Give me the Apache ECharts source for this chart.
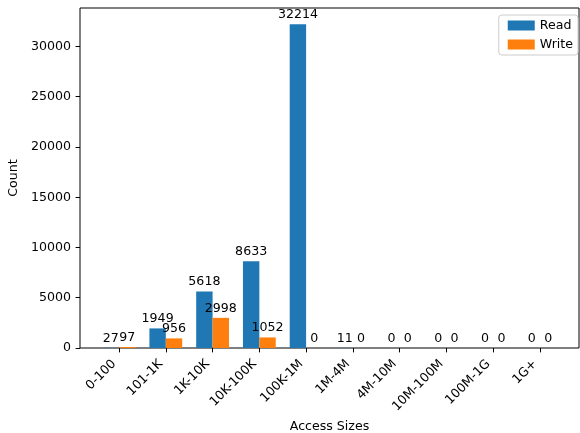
<!DOCTYPE html>
<html>
<head>
<meta charset="utf-8">
<script src="https://cdn.jsdelivr.net/npm/echarts@6/dist/echarts.min.js"></script>
<style>
html, body { margin: 0; padding: 0; background: #fff; }
#chart { width: 580px; height: 433px; }
</style>
</head>
<body>
<div id="chart"></div>
<script>
var sizes = ['0-100', '101-1K', '1K-10K', '10K-100K', '100K-1M', '1M-4M', '4M-10M', '10M-100M', '100M-1G', '1G+'];
var readCounts = [27, 1949, 5618, 8633, 32214, 11, 0, 0, 0, 0];
var writeCounts = [97, 956, 2998, 1052, 0, 0, 0, 0, 0, 0];
var yTicks = [0, 5000, 10000, 15000, 20000, 25000, 30000];

var font = 'DejaVu Sans';
var fs = 12.6;

// x is a value axis so the margins match matplotlib's
var xPos = [];
var readData = [];
var writeData = [];
for (var i = 0; i < sizes.length; i++) {
    xPos.push(i);
    readData.push([i, readCounts[i]]);
    writeData.push([i, writeCounts[i]]);
}

var barLabel = {
    show: true,
    position: 'top',
    distance: 3,
    color: '#000',
    fontFamily: font,
    fontSize: fs,
    formatter: function (p) { return p.value[1]; }
};

var myChart = echarts.init(document.getElementById('chart'));
var option = {
    animation: false,
    textStyle: { fontFamily: font },
    grid: {
        left: 80,
        right: 1,
        top: 8,
        bottom: 85,
        outerBoundsMode: 'none',
        containLabel: false,
        show: true,
        borderColor: '#000',
        borderWidth: 1
    },
    legend: {
        right: 2,
        top: 15,
        orient: 'vertical',
        icon: 'rect',
        itemWidth: 27,
        itemHeight: 10,
        itemGap: 6,
        padding: [4, 5, 4, 9],
        borderColor: '#ccc',
        borderWidth: 1,
        borderRadius: 3,
        textStyle: { fontFamily: font, fontSize: fs, color: '#000' },
        data: ['Read', 'Write']
    },
    xAxis: {
        type: 'value',
        min: -0.835,
        max: 9.835,
        name: 'Access Sizes',
        nameLocation: 'middle',
        nameGap: 71,
        nameTextStyle: { fontFamily: font, fontSize: fs, color: '#000' },
        axisLine: { show: false, onZero: false },
        splitLine: { show: false },
        axisTick: {
            show: true,
            length: 4.4,
            lineStyle: { color: '#000' },
            customValues: xPos
        },
        axisLabel: {
            rotate: 45,
            margin: 9,
            padding: [0, 7, 0, 0],
            color: '#000',
            fontFamily: font,
            fontSize: fs,
            customValues: xPos,
            formatter: function (v) { return sizes[v]; }
        }
    },
    yAxis: {
        type: 'value',
        min: 0,
        max: 33825,
        name: 'Count',
        nameLocation: 'middle',
        nameGap: 53,
        nameTextStyle: { fontFamily: font, fontSize: fs, color: '#000' },
        axisLine: { show: false, onZero: false },
        splitLine: { show: false },
        axisTick: {
            show: true,
            length: 4.4,
            lineStyle: { color: '#000' },
            customValues: yTicks
        },
        axisLabel: {
            margin: 9,
            color: '#000',
            fontFamily: font,
            fontSize: fs,
            customValues: yTicks,
            formatter: function (v) { return String(v); }
        }
    },
    series: [
        {
            name: 'Read',
            type: 'bar',
            data: readData,
            barWidth: 16.4,
            barGap: '0%',
            itemStyle: { color: '#1f77b4' },
            label: barLabel
        },
        {
            name: 'Write',
            type: 'bar',
            data: writeData,
            barWidth: 16.4,
            barGap: '0%',
            itemStyle: { color: '#ff7f0e' },
            label: barLabel
        }
    ]
};
myChart.setOption(option);
</script>
</body>
</html>
